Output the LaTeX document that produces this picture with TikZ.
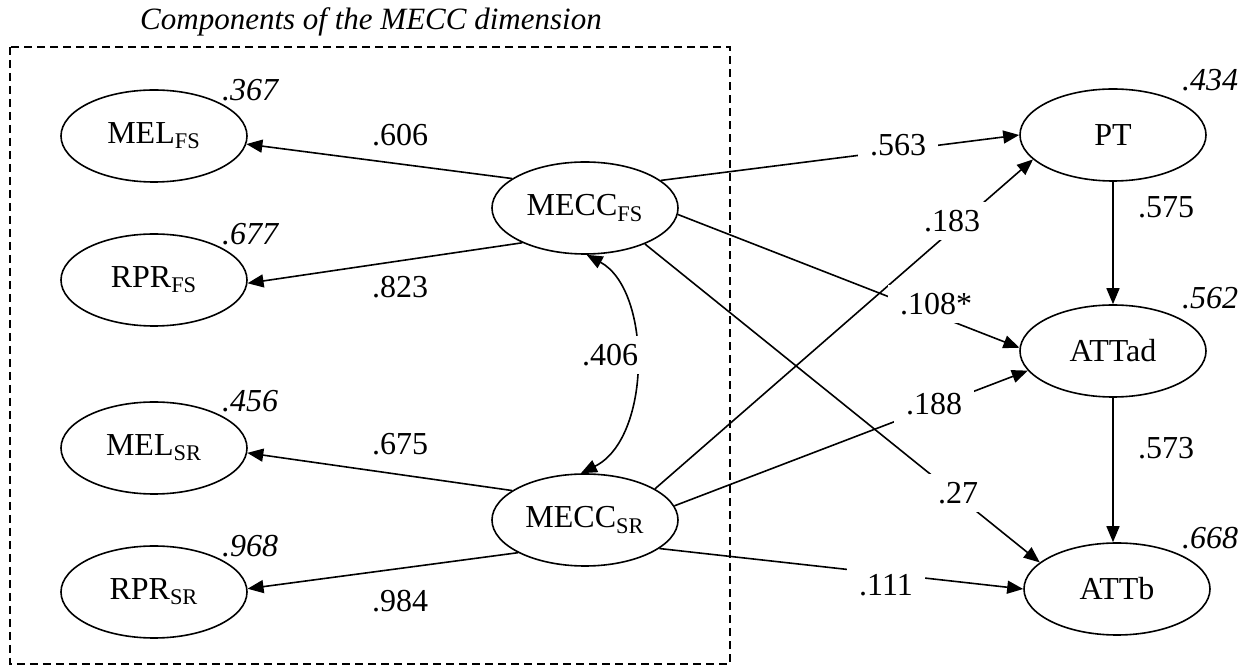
\documentclass[tikz,border=0pt]{standalone}
\usepackage{fontspec}
\setmainfont{Liberation Serif}
\usetikzlibrary{shapes.geometric,arrows.meta}
\begin{document}
\begin{tikzpicture}[x=0.5pt,y=-0.5pt,
  var/.style={ellipse,draw,line width=0.8pt,minimum width=93pt,minimum height=46pt,inner sep=0pt,font=\fontsize{16}{19}\selectfont},
  lbl/.style={font=\fontsize{16}{19}\selectfont,inner sep=1pt},
  cut/.style={lbl,fill=white,inner xsep=6pt,inner ysep=4pt},
  rsq/.style={font=\fontsize{16}{19}\selectfont\itshape,inner sep=1pt},
  conn/.style={line width=0.8pt,-{Triangle[length=8pt,width=6.5pt]}},
]
\useasboundingbox (0,0) rectangle (1250,668);

% dashed group box and title
\draw[line width=0.7pt,dash pattern=on 4pt off 2.5pt] (10,47) rectangle (730,664);
\node[rsq,font=\fontsize{15.5}{18}\selectfont\itshape] (title) at (371,22) {Components of the MECC dimension};

% variables
\node[var] (melfs) at (154,136) {MEL\textsubscript{FS}};
\node[var] (rprfs) at (154,280) {RPR\textsubscript{FS}};
\node[var] (melsr) at (154,448) {MEL\textsubscript{SR}};
\node[var] (rprsr) at (154,592) {RPR\textsubscript{SR}};
\node[var] (mfs) at (585,208) {MECC\textsubscript{FS}};
\node[var] (msr) at (585,520) {MECC\textsubscript{SR}};
\node[var] (pt) at (1113,135) {PT};
\node[var] (attad) at (1113,351) {ATTad};
\node[var] (attb) at (1117,589) {ATTb};

% connectors
\draw[conn] (mfs.158) -- (melfs.-5);
\draw[conn] (mfs.209) -- (rprfs.-2);
\draw[conn] (msr.158) -- (melsr.-3);
\draw[conn] (msr.206) -- (rprsr.2);
\draw[conn] (mfs.20) -- (pt.180);
\draw[conn] (mfs.-4) -- (attad.178);
\draw[conn] (mfs.-31) -- (attb.161);
\draw[conn] (msr.24) -- (pt.197);
\draw[conn] (msr.9) -- (attad.193);
\draw[conn] (msr.-21) -- (attb.180);
\draw[conn] (pt.south) -- (attad.north);
\draw[conn] (attad.south) -- (attad.south |- attb.north);
\draw[line width=0.8pt,{Triangle[length=8pt,width=6.5pt]}-{Triangle[length=8pt,width=6.5pt]}]
  (mfs.272) .. controls (652,290) and (652,438) .. (msr.95);

% path coefficients
\node[lbl] (e1) at (400,135) {.606};
\node[lbl] (e2) at (400,287) {.823};
\node[lbl] (e3) at (400,444) {.675};
\node[lbl] (e4) at (400,601) {.984};
\node[cut] (e5) at (898,145) {.563};
\node[cut] (e6) at (952,221) {.183};
\node[cut] (e7) at (936,304) {.108*};
\node[cut] (e8) at (934,404) {.188};
\node[cut] (e9) at (958,493) {.27};
\node[cut] (e10) at (886,585) {.111};
\node[lbl] (e11) at (1166,207) {.575};
\node[lbl] (e12) at (1166,448) {.573};
\node[cut] (e13) at (610,355) {.406};

% explained variances
\node[rsq] (r1) at (250,90) {.367};
\node[rsq] (r2) at (250,234) {.677};
\node[rsq] (r3) at (250,401) {.456};
\node[rsq] (r4) at (250,546) {.968};
\node[rsq] (r5) at (1210,80) {.434};
\node[rsq] (r6) at (1210,298) {.562};
\node[rsq] (r7) at (1210,538) {.668};
\end{tikzpicture}
\end{document}
